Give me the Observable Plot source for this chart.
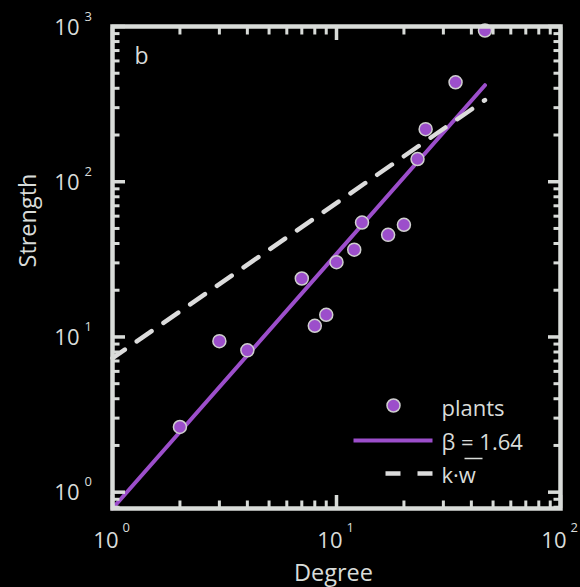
<!DOCTYPE html>
<html>
<head>
<meta charset="utf-8">
<script src="https://cdn.jsdelivr.net/npm/d3@7"></script>
<script src="https://cdn.jsdelivr.net/npm/@observablehq/plot@0.6"></script>
<style>
  html, body { margin: 0; padding: 0; background: #000; }
  #chart svg { display: block; }
</style>
</head>
<body>
<div id="chart"></div>
<script>
// ---- data ----
const degree   = [2, 3, 4, 7, 8, 9, 10, 12, 13, 17, 20, 23, 25, 34, 46];
const strength = [2.63, 9.4, 8.2, 23.8, 11.8, 13.9, 30.3, 36.5, 54.6, 45.5, 52.8, 140, 218, 437, 942];
const beta = 1.64;      // fitted exponent
const fitA = 0.785;     // fitted prefactor
const meanW = 7.3;      // mean weight w (k·w line)

const xMajor = [1, 10, 100];
const xExp = ["0", "1", "2"];
const yMajor = [1, 10, 100, 1000];
const yExp = ["0", "1", "2", "3"];
const xMinor = [2, 3, 4, 5, 6, 7, 8, 9, 20, 30, 40, 50, 60, 70, 80, 90];
const yMinor = [0.8, 0.9, 2, 3, 4, 5, 6, 7, 8, 9, 20, 30, 40, 50, 60, 70, 80, 90, 200, 300, 400, 500, 600, 700, 800, 900];

const panelLabel = "b";
const xTitle = "Degree";
const yTitle = "Strength";
const legendLabels = ["plants", "β = 1.64", "k·w"];

// ---- derived ----
const points = degree.map((k, i) => ({k, s: strength[i]}));
const kMax = d3.max(degree);
const fitLine = [1, kMax].map(k => ({k, s: fitA * Math.pow(k, beta)}));
const kwLine = [1, kMax].map(k => ({k, s: meanW * k}));

const purple = "#9c4ecb";
const fg = "#d9dcd9";
const font = "Open Sans";

const hline = (half) => ({draw(ctx) { ctx.moveTo(-half, 0); ctx.lineTo(half, 0); }});
const legendText = (label, dy) => Plot.text([label], {x: null, y: null, frameAnchor: "bottom-right", text: d => d, dx: -119, dy, textAnchor: "start", lineAnchor: "middle", fill: fg, fontSize: 22, fontFamily: font});

const chart = Plot.plot({
  width: 580,
  height: 587,
  marginLeft: 112,
  marginRight: 20,
  marginTop: 26,
  marginBottom: 79,
  style: {background: "#000", color: fg, fontFamily: font},
  x: {type: "log", domain: [1, 100]},
  y: {type: "log", domain: [0.785, 1000]},
  marks: [
    // data lines
    Plot.line(fitLine, {x: "k", y: "s", stroke: purple, strokeWidth: 4}),
    Plot.line(kwLine, {x: "k", y: "s", stroke: "#dcdcdc", strokeWidth: 4.5, strokeDasharray: "18,14.5", strokeDashoffset: 3}),
    Plot.dot(points, {x: "k", y: "s", r: 6.5, fill: purple, stroke: "#cfcfcf", strokeWidth: 1.5}),

    // frame + inward ticks on all sides
    Plot.frame({stroke: fg, strokeWidth: 4.5}),
    Plot.axisX(xMajor, {anchor: "bottom", tickSize: -13, tickFormat: () => "", stroke: fg, strokeWidth: 3.5, label: null}),
    Plot.axisX(xMinor, {anchor: "bottom", tickSize: -7.5, tickFormat: () => "", stroke: fg, strokeWidth: 3, label: null}),
    Plot.axisX(xMajor, {anchor: "top", tickSize: -13, tickFormat: () => "", stroke: fg, strokeWidth: 3.5, label: null}),
    Plot.axisX(xMinor, {anchor: "top", tickSize: -7.5, tickFormat: () => "", stroke: fg, strokeWidth: 3, label: null}),
    Plot.axisY(yMajor, {anchor: "left", tickSize: -13, tickFormat: () => "", stroke: fg, strokeWidth: 3.5, label: null}),
    Plot.axisY(yMinor, {anchor: "left", tickSize: -7.5, tickFormat: () => "", stroke: fg, strokeWidth: 3, label: null}),
    Plot.axisY(yMajor, {anchor: "right", tickSize: -13, tickFormat: () => "", stroke: fg, strokeWidth: 3.5, label: null}),
    Plot.axisY(yMinor, {anchor: "right", tickSize: -7.5, tickFormat: () => "", stroke: fg, strokeWidth: 3, label: null}),

    // tick labels 10^n
    Plot.text(xMajor, {x: d => d, frameAnchor: "bottom", text: () => "10", textAnchor: "end", dx: 6, dy: 32, lineAnchor: "middle", fill: fg, fontSize: 22, fontFamily: font}),
    Plot.text(xMajor, {x: d => d, frameAnchor: "bottom", text: (d, i) => xExp[i], textAnchor: "start", dx: 10, dy: 19, lineAnchor: "middle", fill: fg, fontSize: 13, fontFamily: font}),
    Plot.text(yMajor, {y: d => d, frameAnchor: "left", text: () => "10", textAnchor: "end", dx: -33, dy: 1, lineAnchor: "middle", fill: fg, fontSize: 22, fontFamily: font}),
    Plot.text(yMajor, {y: d => d, frameAnchor: "left", text: (d, i) => yExp[i], textAnchor: "start", dx: -28, dy: -10, lineAnchor: "middle", fill: fg, fontSize: 13, fontFamily: font}),

    // axis titles
    Plot.text([xTitle], {x: null, y: null, frameAnchor: "bottom", text: d => d, dy: 72, dx: -3, lineAnchor: "bottom", fill: fg, fontSize: 23.5, fontFamily: font}),
    Plot.text([yTitle], {x: null, y: null, frameAnchor: "left", text: d => d, rotate: -90, dx: -77, lineAnchor: "bottom", fill: fg, fontSize: 23.5, fontFamily: font}),

    // panel label
    Plot.text([panelLabel], {x: null, y: null, frameAnchor: "top-left", text: d => d, textAnchor: "start", dx: 22, dy: 37, lineAnchor: "bottom", fill: fg, fontSize: 23, fontFamily: font}),

    // legend
    Plot.dot([legendLabels[0]], {x: null, y: null, frameAnchor: "bottom-right", dx: -167, dy: -103, r: 6.5, fill: purple, stroke: "#cfcfcf", strokeWidth: 1.5}),
    Plot.dot([legendLabels[1]], {x: null, y: null, frameAnchor: "bottom-right", dx: -167.5, dy: -68, symbol: hline(39.5), stroke: purple, strokeWidth: 4, fill: "none"}),
    Plot.dot([legendLabels[2]], {x: null, y: null, frameAnchor: "bottom-right", dx: -151.5, dy: -35, symbol: hline(23.5), stroke: "#dcdcdc", strokeWidth: 4.5, strokeDasharray: "15,17", fill: "none"}),
    Plot.dot([legendLabels[1]], {x: null, y: null, frameAnchor: "bottom-right", dx: -87, dy: -50, symbol: hline(9), stroke: fg, strokeWidth: 1.5, fill: "none"}),
    legendText(legendLabels[0], -100),
    legendText(legendLabels[1], -66),
    legendText(legendLabels[2], -33)
  ]
});
document.getElementById("chart").appendChild(chart);
</script>
</body>
</html>
